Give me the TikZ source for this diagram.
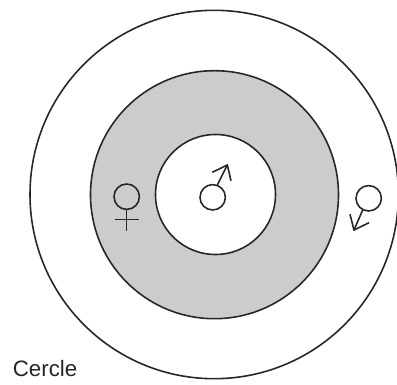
\documentclass[tikz,border=0pt]{standalone}
\usepackage{xcolor,fontspec}
\setmainfont{Liberation Sans}
\definecolor{ringgray}{RGB}{204,204,204}
\tikzset{ring/.style={draw=black!85,line width=0.9pt},
  sign/.style={draw=black!85,line width=0.9pt}}
\begin{document}
\begin{tikzpicture}[x=0.02cm,y=-0.02cm]
\useasboundingbox (0,0) rectangle (397,385);
% the three rings
\draw [ring] (214.2,194.5) circle [radius=184.2];
\draw [ring,fill=ringgray] (214.5,194.7) circle [radius=124];
\draw [ring,fill=white] (215.5,194.5) circle [radius=60];
% female, in the gray ring
\draw [sign] (126.7,196.7) circle [radius=12.7];
\draw [sign] (126.7,209.4) -- (126.7,230.7) (115,219.3) -- (139,219.3);
% male, in the centre
\draw [sign] (212.7,197.3) circle [radius=12.7];
\draw [sign] (217.3,185) -- (227.3,165);
\draw [sign] (212.3,172.3) -- (227.3,165) -- (231,180.7);
% male, in the outer ring
\draw [sign] (368.7,198.3) circle [radius=12.7];
\draw [sign] (362.7,210) -- (354,230);
\draw [sign] (350,214.3) -- (354,230) -- (369,222.7);
\node (cercle) [anchor=base west,inner sep=0pt,text=black!85,font=\fontsize{12.7}{15}\selectfont] at (12.5,377) {Cercle};
\end{tikzpicture}
\end{document}
